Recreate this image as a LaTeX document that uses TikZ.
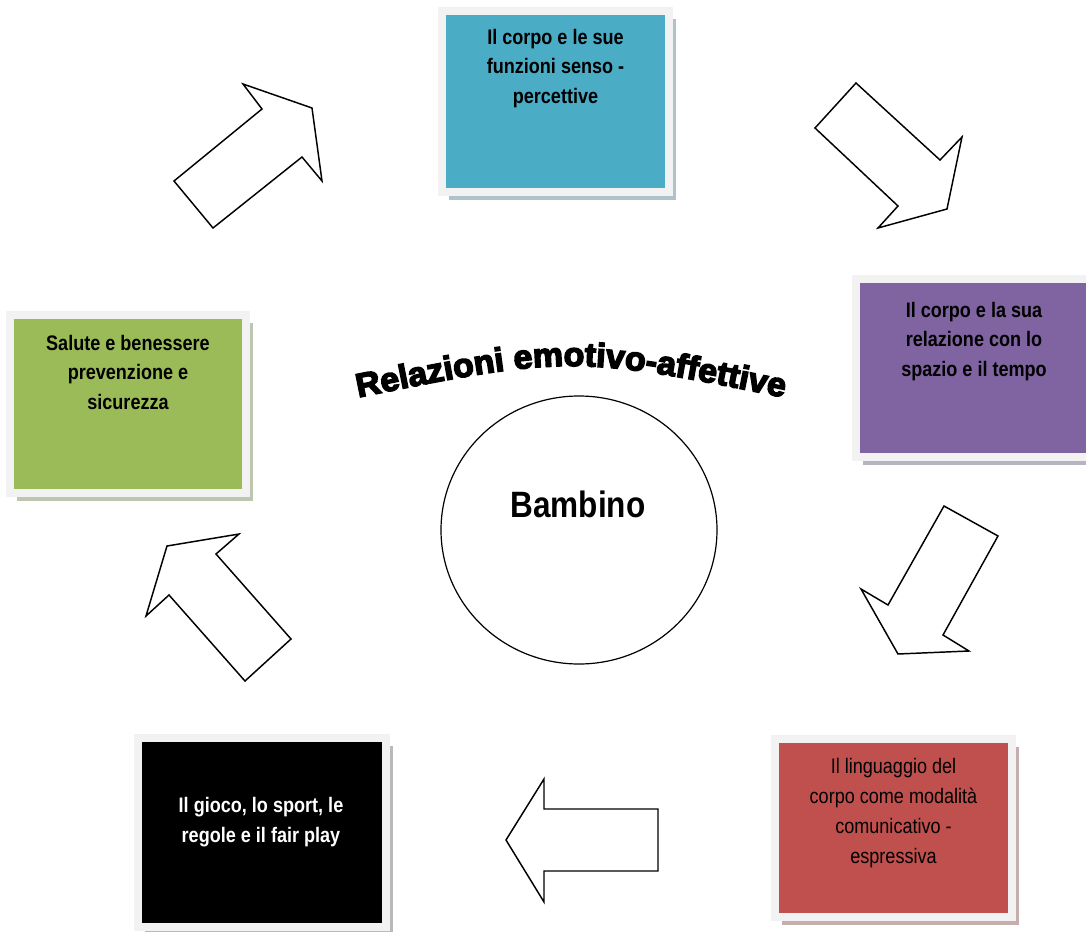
\documentclass[tikz,border=0pt]{standalone}
\usepackage{fontspec}
\setmainfont{Liberation Sans}
\newfontfamily\narrowfont[FakeStretch=0.86]{Liberation Sans}
\newfontfamily\archfont[FakeStretch=1.02,BoldFeatures={FakeBold=4.5}]{Liberation Sans}
\newcommand{\archstyle}{\archfont\bfseries\fontsize{25}{30}\selectfont}
\usetikzlibrary{shapes.geometric, shadows, decorations.text}
\definecolor{cteal}{HTML}{4BACC6}
\definecolor{cpurple}{HTML}{8064A2}
\definecolor{cgreen}{HTML}{9BBB59}
\definecolor{cred}{HTML}{C0504D}
\definecolor{cframe}{HTML}{F2F2F2}

\begin{document}
\begin{tikzpicture}[x=0.75pt, y=-0.75pt,
    card/.style 2 args={rectangle, draw=cframe, line width=6pt, minimum width=#1, minimum height=#2, inner sep=0pt},
    cardshadow/.style={drop shadow={shadow xshift=5.5pt, shadow yshift=-6.25pt, opacity=1, fill=#1!40!gray!55!white}},
    cardtext/.style={align=center, inner sep=0pt, anchor=north, font=\narrowfont\bfseries\fontsize{15.75}{22}\selectfont},
    blockarrow/.style={draw=black, line width=1.1pt, line join=miter, fill=white}]
    \clip (0,0) rectangle (1086,932);

    % Boxes
    \node[card={170.25pt}{135.75pt}, fill=cteal, cardshadow=cteal] (corpo) at (555.5,101.5) {};
    \node[card={177pt}{133.5pt}, fill=cpurple, cardshadow=cpurple] (spazio) at (974,368) {};
    \node[card={177pt}{133.5pt}, fill=cgreen, cardshadow=cgreen] (salute) at (128,404) {};
    \node[card={177.75pt}{133.5pt}, fill=cred, cardshadow=cred] (linguaggio) at (893.5,828) {};
    \node[card={186pt}{141.75pt}, fill=black, cardshadow=gray] (gioco) at (262,832.5) {};

    % Box texts
    \node[cardtext] (corpotxt) at (555.5,29) {Il corpo e le sue\\funzioni senso -\\percettive};
    \node[cardtext] (spaziotxt) at (974,302) {Il corpo e la sua\\relazione con lo\\spazio e il tempo};
    \node[cardtext] (salutetxt) at (128,335) {Salute e benessere\\prevenzione e\\sicurezza};
    \node[cardtext, font=\narrowfont\fontsize{15.75}{22.5}\selectfont] (linguaggiotxt) at (893.5,758) {Il linguaggio del\\corpo come modalità\\comunicativo -\\espressiva};
    \node[cardtext, text=white, font=\narrowfont\bfseries\fontsize{15.75}{22.5}\selectfont] (giocotxt) at (261,797) {Il gioco, lo sport, le\\regole e il fair play};

    % Centre
    \node[draw, ellipse, line width=0.9pt, minimum width=207pt, minimum height=201pt] (centro) at (579,530) {};
    \node[anchor=base, inner sep=0pt, font=\narrowfont\bfseries\fontsize{27.5}{33}\selectfont] (bambino) at (578,517) {Bambino};

    % Arched title
    \path[decorate, decoration={text along path, text align=center,
        text={|\archstyle|Relazioni emotivo-affettive}}]
        (336,402) .. controls (571,354) .. (806,402);

    % Arrows
    \draw[blockarrow] (174,181) -- (262,109) -- (243,84) -- (312,108) -- (322,181) -- (302,157) -- (213,228) -- cycle;
    \draw[blockarrow] (856,83) -- (815,128) -- (898,206) -- (878,228) -- (947,209) -- (962,137) -- (940,160) -- cycle;
    \draw[blockarrow] (944,506) -- (998,536) -- (943,635) -- (969,651) -- (898,654) -- (861,589) -- (888,605) -- cycle;
    \draw[blockarrow] (658,809) -- (544,809) -- (544,779) -- (506,840) -- (544,902) -- (544,871) -- (658,871) -- cycle;
    \draw[blockarrow] (291,639) -- (216,554) -- (239,534) -- (167,546) -- (146,616) -- (169,595) -- (245,681) -- cycle;
\end{tikzpicture}
\end{document}
